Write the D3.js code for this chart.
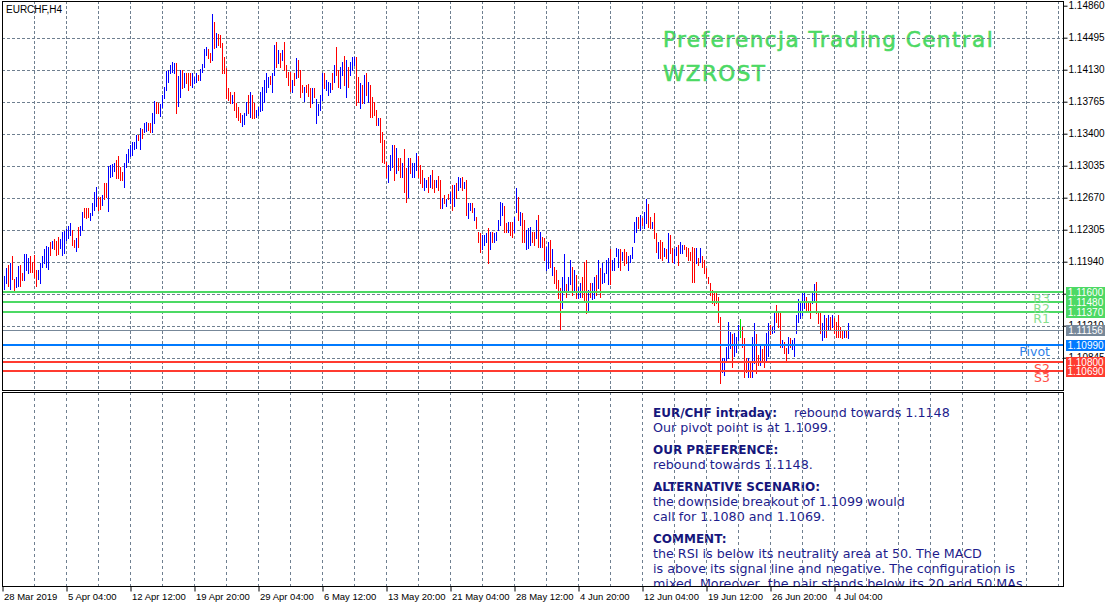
<!DOCTYPE html>
<html>
<head>
<meta charset="utf-8">
<script src="https://cdn.jsdelivr.net/npm/d3@7"></script>
<style>
  body { margin: 0; background: #fff; }
  svg { display: block; }
</style>
</head>
<body>
<svg id="chart"></svg>
<script>
// EURCHF H4 bars (high / low / direction per bar)
const highs = [
  1.1185,1.1178,1.1187,1.1190,1.1193,1.1200,1.1174,1.1177,1.1189,1.1190,
  1.1181,1.1203,1.1203,1.1198,1.1200,1.1194,1.1202,1.1185,1.1184,1.1193,
  1.1200,1.1208,1.1212,1.1211,1.1216,1.1218,1.1220,1.1218,1.1222,1.1220,
  1.1228,1.1229,1.1231,1.1235,1.1238,1.1230,1.1219,1.1221,1.1234,1.1235,
  1.1251,1.1255,1.1255,1.1255,1.1250,1.1261,1.1273,1.1279,1.1268,1.1268,
  1.1270,1.1284,1.1284,1.1303,1.1304,1.1306,1.1307,1.1310,1.1314,1.1302,
  1.1296,1.1307,1.1317,1.1323,1.1327,1.1331,1.1331,1.1339,1.1339,1.1347,
  1.1345,1.1352,1.1353,1.1352,1.1352,1.1364,1.1377,1.1376,1.1375,1.1374,
  1.1384,1.1393,1.1412,1.1413,1.1418,1.1422,1.1421,1.1421,1.1406,1.1413,
  1.1413,1.1409,1.1409,1.1409,1.1409,1.1409,1.1405,1.1409,1.1407,1.1414,
  1.1420,1.1437,1.1439,1.1437,1.1432,1.1477,1.1467,1.1455,1.1454,1.1453,
  1.1444,1.1428,1.1415,1.1392,1.1388,1.1384,1.1387,1.1375,1.1371,1.1364,
  1.1361,1.1364,1.1376,1.1384,1.1387,1.1384,1.1375,1.1367,1.1371,1.1388,
  1.1393,1.1401,1.1409,1.1405,1.1406,1.1409,1.1441,1.1445,1.1436,1.1432,
  1.1436,1.1445,1.1418,1.1410,1.1410,1.1401,1.1409,1.1426,1.1424,1.1413,
  1.1395,1.1393,1.1396,1.1397,1.1392,1.1392,1.1392,1.1380,1.1374,1.1384,
  1.1409,1.1409,1.1401,1.1399,1.1398,1.1409,1.1418,1.1439,1.1413,1.1416,
  1.1422,1.1429,1.1424,1.1416,1.1422,1.1428,1.1428,1.1428,1.1405,1.1398,
  1.1396,1.1407,1.1409,1.1399,1.1396,1.1382,1.1376,1.1367,1.1358,1.1358,
  1.1342,1.1333,1.1308,1.1304,1.1316,1.1327,1.1327,1.1324,1.1312,1.1312,
  1.1307,1.1322,1.1301,1.1312,1.1312,1.1307,1.1307,1.1318,1.1314,1.1304,
  1.1299,1.1290,1.1287,1.1291,1.1293,1.1299,1.1287,1.1287,1.1292,1.1287,
  1.1267,1.1270,1.1265,1.1271,1.1274,1.1282,1.1282,1.1284,1.1291,1.1290,
  1.1291,1.1285,1.1287,1.1261,1.1261,1.1261,1.1255,1.1245,1.1228,1.1227,
  1.1225,1.1225,1.1227,1.1233,1.1228,1.1228,1.1227,1.1228,1.1242,1.1262,
  1.1261,1.1257,1.1238,1.1239,1.1239,1.1239,1.1245,1.1278,1.1268,1.1251,
  1.1250,1.1242,1.1230,1.1233,1.1234,1.1228,1.1228,1.1242,1.1247,1.1228,
  1.1222,1.1221,1.1211,1.1216,1.1219,1.1208,1.1188,1.1185,1.1173,1.1164,
  1.1176,1.1203,1.1168,1.1176,1.1196,1.1188,1.1185,1.1179,1.1165,1.1170,
  1.1176,1.1194,1.1196,1.1162,1.1170,1.1170,1.1177,1.1179,1.1196,1.1187,
  1.1193,1.1181,1.1196,1.1198,1.1208,1.1196,1.1198,1.1210,1.1208,1.1208,
  1.1205,1.1208,1.1205,1.1200,1.1202,1.1211,1.1239,1.1245,1.1245,1.1247,
  1.1244,1.1251,1.1265,1.1260,1.1245,1.1239,1.1250,1.1227,1.1217,1.1219,
  1.1217,1.1210,1.1209,1.1227,1.1225,1.1210,1.1208,1.1211,1.1213,1.1216,
  1.1213,1.1213,1.1211,1.1210,1.1205,1.1211,1.1210,1.1210,1.1198,1.1210,
  1.1200,1.1196,1.1187,1.1177,1.1170,1.1162,1.1159,1.1160,1.1154,1.1131,
  1.1084,1.1084,1.1097,1.1125,1.1114,1.1111,1.1113,1.1108,1.1122,1.1129,
  1.1120,1.1107,1.1084,1.1084,1.1080,1.1108,1.1124,1.1111,1.1088,1.1099,
  1.1094,1.1099,1.1113,1.1124,1.1122,1.1120,1.1137,1.1145,1.1136,1.1136,
  1.1105,1.1102,1.1096,1.1108,1.1107,1.1105,1.1107,1.1133,1.1151,1.1147,
  1.1159,1.1160,1.1154,1.1148,1.1147,1.1159,1.1168,1.1171,1.1136,1.1136,
  1.1124,1.1133,1.1130,1.1133,1.1131,1.1133,1.1130,1.1125,1.1133,1.1120,
  1.1116,1.1116,1.1116,1.1124
];
const lows = [
  1.1165,1.1163,1.1170,1.1166,1.1163,1.1174,1.1162,1.1165,1.1166,1.1166,
  1.1173,1.1173,1.1185,1.1181,1.1182,1.1182,1.1177,1.1166,1.1174,1.1170,
  1.1188,1.1193,1.1188,1.1186,1.1202,1.1210,1.1209,1.1202,1.1203,1.1210,
  1.1202,1.1204,1.1219,1.1221,1.1225,1.1213,1.1211,1.1206,1.1211,1.1225,
  1.1230,1.1245,1.1244,1.1245,1.1242,1.1247,1.1253,1.1257,1.1253,1.1254,
  1.1259,1.1265,1.1268,1.1252,1.1291,1.1292,1.1298,1.1290,1.1290,1.1287,
  1.1287,1.1279,1.1302,1.1308,1.1314,1.1316,1.1322,1.1324,1.1333,1.1322,
  1.1335,1.1342,1.1343,1.1344,1.1342,1.1342,1.1352,1.1364,1.1364,1.1360,
  1.1371,1.1381,1.1390,1.1399,1.1409,1.1410,1.1409,1.1364,1.1372,1.1382,
  1.1392,1.1393,1.1398,1.1390,1.1395,1.1393,1.1398,1.1399,1.1401,1.1401,
  1.1410,1.1416,1.1430,1.1426,1.1422,1.1424,1.1438,1.1439,1.1441,1.1439,
  1.1409,1.1409,1.1381,1.1379,1.1375,1.1375,1.1367,1.1359,1.1356,1.1353,
  1.1349,1.1351,1.1361,1.1364,1.1359,1.1358,1.1358,1.1359,1.1361,1.1366,
  1.1367,1.1376,1.1388,1.1393,1.1397,1.1387,1.1407,1.1416,1.1421,1.1416,
  1.1424,1.1413,1.1405,1.1396,1.1389,1.1387,1.1396,1.1404,1.1405,1.1382,
  1.1387,1.1377,1.1388,1.1383,1.1371,1.1375,1.1382,1.1352,1.1361,1.1367,
  1.1379,1.1392,1.1390,1.1384,1.1388,1.1391,1.1399,1.1407,1.1393,1.1392,
  1.1407,1.1395,1.1382,1.1393,1.1407,1.1413,1.1418,1.1373,1.1376,1.1369,
  1.1375,1.1375,1.1384,1.1376,1.1359,1.1359,1.1361,1.1350,1.1350,1.1331,
  1.1308,1.1307,1.1291,1.1285,1.1299,1.1302,1.1287,1.1295,1.1299,1.1291,
  1.1291,1.1273,1.1262,1.1268,1.1295,1.1291,1.1291,1.1299,1.1291,1.1284,
  1.1279,1.1276,1.1279,1.1274,1.1279,1.1278,1.1274,1.1279,1.1276,1.1255,
  1.1255,1.1261,1.1257,1.1265,1.1261,1.1253,1.1257,1.1267,1.1276,1.1279,
  1.1276,1.1278,1.1247,1.1244,1.1253,1.1251,1.1242,1.1233,1.1217,1.1205,
  1.1208,1.1213,1.1217,1.1193,1.1208,1.1216,1.1217,1.1219,1.1230,1.1236,
  1.1247,1.1228,1.1228,1.1228,1.1225,1.1222,1.1228,1.1251,1.1242,1.1236,
  1.1217,1.1216,1.1208,1.1210,1.1213,1.1217,1.1213,1.1221,1.1211,1.1211,
  1.1211,1.1196,1.1185,1.1187,1.1188,1.1179,1.1170,1.1164,1.1153,1.1116,
  1.1141,1.1159,1.1154,1.1160,1.1168,1.1156,1.1162,1.1153,1.1153,1.1154,
  1.1154,1.1148,1.1136,1.1139,1.1154,1.1151,1.1153,1.1156,1.1164,1.1154,
  1.1170,1.1171,1.1181,1.1168,1.1168,1.1185,1.1185,1.1200,1.1188,1.1185,
  1.1196,1.1190,1.1193,1.1185,1.1194,1.1198,1.1217,1.1228,1.1233,1.1230,
  1.1236,1.1233,1.1238,1.1234,1.1233,1.1233,1.1221,1.1205,1.1198,1.1198,
  1.1196,1.1200,1.1198,1.1194,1.1204,1.1194,1.1193,1.1202,1.1190,1.1204,
  1.1204,1.1208,1.1200,1.1196,1.1196,1.1171,1.1171,1.1193,1.1190,1.1194,
  1.1188,1.1181,1.1176,1.1170,1.1156,1.1147,1.1145,1.1147,1.1125,1.1056,
  1.1068,1.1065,1.1082,1.1084,1.1096,1.1074,1.1086,1.1091,1.1105,1.1108,
  1.1097,1.1063,1.1068,1.1063,1.1062,1.1062,1.1079,1.1067,1.1076,1.1076,
  1.1080,1.1074,1.1082,1.1086,1.1111,1.1113,1.1114,1.1125,1.1120,1.1097,
  1.1097,1.1090,1.1080,1.1090,1.1097,1.1094,1.1086,1.1113,1.1125,1.1130,
  1.1133,1.1141,1.1139,1.1137,1.1130,1.1147,1.1148,1.1136,1.1124,1.1113,
  1.1105,1.1108,1.1108,1.1116,1.1116,1.1119,1.1113,1.1108,1.1108,1.1108,
  1.1107,1.1108,1.1108,1.1107
];
// u = up bar, d = down bar, n = unchanged
const barDirs = (
  'uuududduud' + 'duuudddduu' + 'uuuududddu' + 'uuuuuddudu' + 'uddduuuudd' +
  'udduuuuddd' + 'duuuuuuudu' + 'duudduuddu' + 'uuuuuuuduu' + 'duddduuudu' +
  'uuuddududd' + 'dddddudddd' + 'uuududduuu' + 'uuuuduudud' + 'uddddududd' +
  'duddduduuu' + 'uduuududdu' + 'ududuuuddu' + 'dududdddud' + 'ddduuududd' +
  'udduduuudd' + 'duududdudd' + 'ududududuu' + 'duduududdd' + 'uuududuuuu' +
  'uddudduudu' + 'dduuuddudu' + 'dduududddd' + 'uuduududuu' + 'ddduduudud' +
  'uuuuduuuud' + 'udduuuuudu' + 'duudduddud' + 'dududduudu' + 'uddddddudu' +
  'dddddddddd' + 'uuuuuduuun' + 'ddduduuddu' + 'dduuduuddd' + 'udduduuuuu' +
  'uuddduuddd' + 'uudududddd' + 'dudu'
).split('');

const priceTicks = [1.14860, 1.14495, 1.14130, 1.13765, 1.13400, 1.13035,
  1.12670, 1.12305, 1.11940, 1.11575, 1.11210, 1.10845];
const dateLabels = ['28 Mar 2019', '5 Apr 04:00', '12 Apr 12:00', '19 Apr 20:00',
  '29 Apr 04:00', '6 May 12:00', '13 May 20:00', '21 May 04:00', '28 May 12:00',
  '4 Jun 20:00', '12 Jun 04:00', '19 Jun 12:00', '26 Jun 20:00', '4 Jul 04:00'];
const dateTickBars = [0, 32, 64, 96, 128, 160, 192, 224, 256, 288, 320, 352, 384, 416];

const levelNames = ['R3', 'R2', 'R1', 'Pivot', 'S2', 'S3'];
const levelValues = [1.1160, 1.1148, 1.1137, 1.1099, 1.1080, 1.1069];
const levelKinds = ['res', 'res', 'res', 'pivot', 'sup', 'sup'];
const lastPrice = 1.11156;

const symbolTitle = 'EURCHF,H4';
const headline = ['Preferencja Trading Central', 'WZROST'];
// [bold part, normal part]
const commentLines = [
  ['EUR/CHF intraday:', 'rebound towards 1.1148'],
  ['', 'Our pivot point is at 1.1099.'],
  ['OUR PREFERENCE:', ''],
  ['', 'rebound towards 1.1148.'],
  ['ALTERNATIVE SCENARIO:', ''],
  ['', 'the downside breakout of 1.1099 would'],
  ['', 'call for 1.1080 and 1.1069.'],
  ['COMMENT:', ''],
  ['', 'the RSI is below its neutrality area at 50. The MACD'],
  ['', 'is above its signal line and negative. The configuration is'],
  ['', 'mixed. Moreover, the pair stands below its 20 and 50 MAs.']
];

const W = 1116, H = 607;
const padL = 2, padR = 1063, mainTop = 1, mainBottom = 390, subTop = 392, subBottom = 586;

const colors = {
  up: '#0000ff', down: '#ff0000', flat: '#00e000',
  grid: '#6f7f90',
  res: '#4cd964', resText: '#86e08e',
  pivot: '#007aff', pivotText: '#2f7fe8',
  sup: '#ff3b30', supText: '#ff4d44',
  last: '#778899',
  note: '#1c1c8c'
};

const svg = d3.select('#chart')
  .attr('width', W)
  .attr('height', H)
  .style('font-family', 'DejaVu Sans, Verdana, sans-serif');

// one bar every 2 px
const xScale = d3.scaleLinear()
  .domain([0, 1])
  .range([padL, padL + 2]);

const yScale = d3.scaleLinear()
  .domain([priceTicks[priceTicks.length - 1] - 0.00365, priceTicks[0]])
  .range([389.7, 5.7]);

// headline (under the grid, as in the terminal)
svg.selectAll('text.headline')
  .data(headline)
  .enter()
  .append('text')
  .attr('class', 'headline')
  .attr('x', 663)
  .attr('y', (d, i) => 47 + i * 34)
  .attr('fill', colors.res)
  .attr('stroke', colors.res)
  .attr('stroke-width', 0.6)
  .attr('font-size', '21.5px')
  .attr('letter-spacing', '1.45px')
  .text((d) => d);

// comment panel text
svg.append('clipPath').attr('id', 'subclip')
  .append('rect')
  .attr('x', padL).attr('y', subTop)
  .attr('width', padR - padL).attr('height', subBottom - subTop);
let note = svg.append('g').attr('clip-path', 'url(#subclip)');

const lineGaps = [0, 0, 7, 7, 14, 14, 14, 21, 21, 21, 21];
commentLines.forEach((line, i) => {
  let y = 417 + i * 15 + lineGaps[i];
  if (line[0]) {
    note.append('text')
      .attr('x', 653).attr('y', y)
      .attr('fill', '#16167c')
      .attr('font-weight', 'bold')
      .attr('font-size', '12px')
      .text(line[0]);
  }
  if (line[1]) {
    note.append('text')
      .attr('x', line[0] ? 794 : 653).attr('y', y)
      .attr('fill', colors.note)
      .attr('font-size', '12.7px')
      .text(line[1]);
  }
});

// GRID
let grid = svg.append('g')
  .attr('stroke', colors.grid)
  .attr('stroke-width', 1)
  .attr('shape-rendering', 'crispEdges');

let gridBars = d3.range(16, 530, 16);

grid.selectAll('line.vmain')
  .data(gridBars)
  .enter()
  .append('line')
  .attr('class', 'vmain')
  .attr('x1', (d) => xScale(d) + 0.5)
  .attr('x2', (d) => xScale(d) + 0.5)
  .attr('y1', mainTop)
  .attr('y2', mainBottom)
  .attr('stroke-dasharray', '3,2');

grid.selectAll('line.vsub')
  .data(gridBars)
  .enter()
  .append('line')
  .attr('class', 'vsub')
  .attr('x1', (d) => xScale(d) + 0.5)
  .attr('x2', (d) => xScale(d) + 0.5)
  .attr('y1', subTop)
  .attr('y2', subBottom)
  .attr('stroke-dasharray', '3,3');

grid.selectAll('line.h')
  .data(priceTicks.slice(1))
  .enter()
  .append('line')
  .attr('class', 'h')
  .attr('x1', padL)
  .attr('x2', padR)
  .attr('y1', (d) => Math.round(yScale(d)) + 0.5)
  .attr('y2', (d) => Math.round(yScale(d)) + 0.5)
  .attr('stroke-dasharray', '3,2');

// BARS
svg.append('g')
  .attr('shape-rendering', 'crispEdges')
  .selectAll('line')
  .data(highs)
  .enter()
  .append('line')
  .attr('x1', (d, i) => xScale(i) + 0.5)
  .attr('x2', (d, i) => xScale(i) + 0.5)
  .attr('y1', (d) => yScale(d))
  .attr('y2', (d, i) => yScale(lows[i]) + 1)
  .attr('stroke-width', 1)
  .attr('stroke', (d, i) => barDirs[i] === 'u' ? colors.up : (barDirs[i] === 'd' ? colors.down : colors.flat));

// LEVELS
const lineColor = (k) => colors[k];
const textColor = (k) => colors[k + 'Text'];

svg.append('line')
  .attr('x1', padL).attr('x2', padR)
  .attr('y1', Math.round(yScale(lastPrice)) + 0.5)
  .attr('y2', Math.round(yScale(lastPrice)) + 0.5)
  .attr('stroke', colors.last)
  .attr('stroke-width', 1);

svg.selectAll('line.level')
  .data(levelValues)
  .enter()
  .append('line')
  .attr('class', 'level')
  .attr('x1', padL).attr('x2', padR)
  .attr('y1', (d) => Math.round(yScale(d)))
  .attr('y2', (d) => Math.round(yScale(d)))
  .attr('stroke', (d, i) => lineColor(levelKinds[i]))
  .attr('stroke-width', 2);

svg.selectAll('text.level')
  .data(levelValues)
  .enter()
  .append('text')
  .attr('class', 'level')
  .attr('x', 1050)
  .attr('y', (d) => yScale(d) + 11)
  .attr('text-anchor', 'end')
  .attr('font-size', '12.5px')
  .attr('fill', (d, i) => textColor(levelKinds[i]))
  .text((d, i) => levelNames[i]);

// FRAMES
let frame = svg.append('g')
  .attr('fill', 'none')
  .attr('stroke', '#000')
  .attr('shape-rendering', 'crispEdges');
frame.append('rect')
  .attr('x', padL + 0.5).attr('y', mainTop + 0.5)
  .attr('width', padR - padL).attr('height', mainBottom - mainTop);
frame.append('rect')
  .attr('x', padL + 0.5).attr('y', subTop + 0.5)
  .attr('width', padR - padL).attr('height', subBottom - subTop);

// AXES
let yAxis = svg.append('g')
  .attr('transform', `translate(${padR + 0.5}, 0)`)
  .call(d3.axisRight(yScale)
    .tickValues(priceTicks)
    .tickFormat(d3.format('.5f'))
    .tickSize(4)
    .tickPadding(1));
yAxis.select('.domain').remove();
yAxis.selectAll('text')
  .attr('font-family', 'Liberation Sans, Arial, sans-serif')
  .attr('font-size', '10px')
  .attr('fill', '#000');

let xAxis = svg.append('g')
  .attr('transform', `translate(0.5, ${subBottom + 0.5})`)
  .call(d3.axisBottom(xScale)
    .tickValues(dateTickBars)
    .tickFormat((d, i) => dateLabels[i])
    .tickSize(5)
    .tickPadding(2));
xAxis.select('.domain').remove();
xAxis.selectAll('text')
  .attr('text-anchor', 'start')
  .attr('x', 1)
  .attr('font-family', 'Liberation Sans, Arial, sans-serif')
  .attr('font-size', '9.5px')
  .attr('fill', '#000');

// price boxes on the right scale
let boxes = [
  ...levelValues.map((v, i) => ({ v: v, c: lineColor(levelKinds[i]) })),
  { v: lastPrice, c: colors.last }
];
let box = svg.selectAll('g.box')
  .data(boxes)
  .enter()
  .append('g')
  .attr('class', 'box')
  .attr('transform', (d) => `translate(1066, ${Math.round(yScale(d.v)) - 5})`);
box.append('rect')
  .attr('width', 39)
  .attr('height', 11)
  .attr('fill', (d) => d.c);
box.append('text')
  .attr('x', 19.5)
  .attr('y', 9)
  .attr('text-anchor', 'middle')
  .attr('font-family', 'Liberation Sans, Arial, sans-serif')
  .attr('font-size', '10px')
  .attr('fill', '#fff')
  .text((d) => d3.format('.5f')(d.v));

// symbol title
svg.append('text')
  .attr('x', 6)
  .attr('y', 13)
  .attr('font-family', 'Liberation Sans, Arial, sans-serif')
  .attr('font-size', '10px')
  .attr('fill', '#000')
  .text(symbolTitle);
</script>
</body>
</html>
